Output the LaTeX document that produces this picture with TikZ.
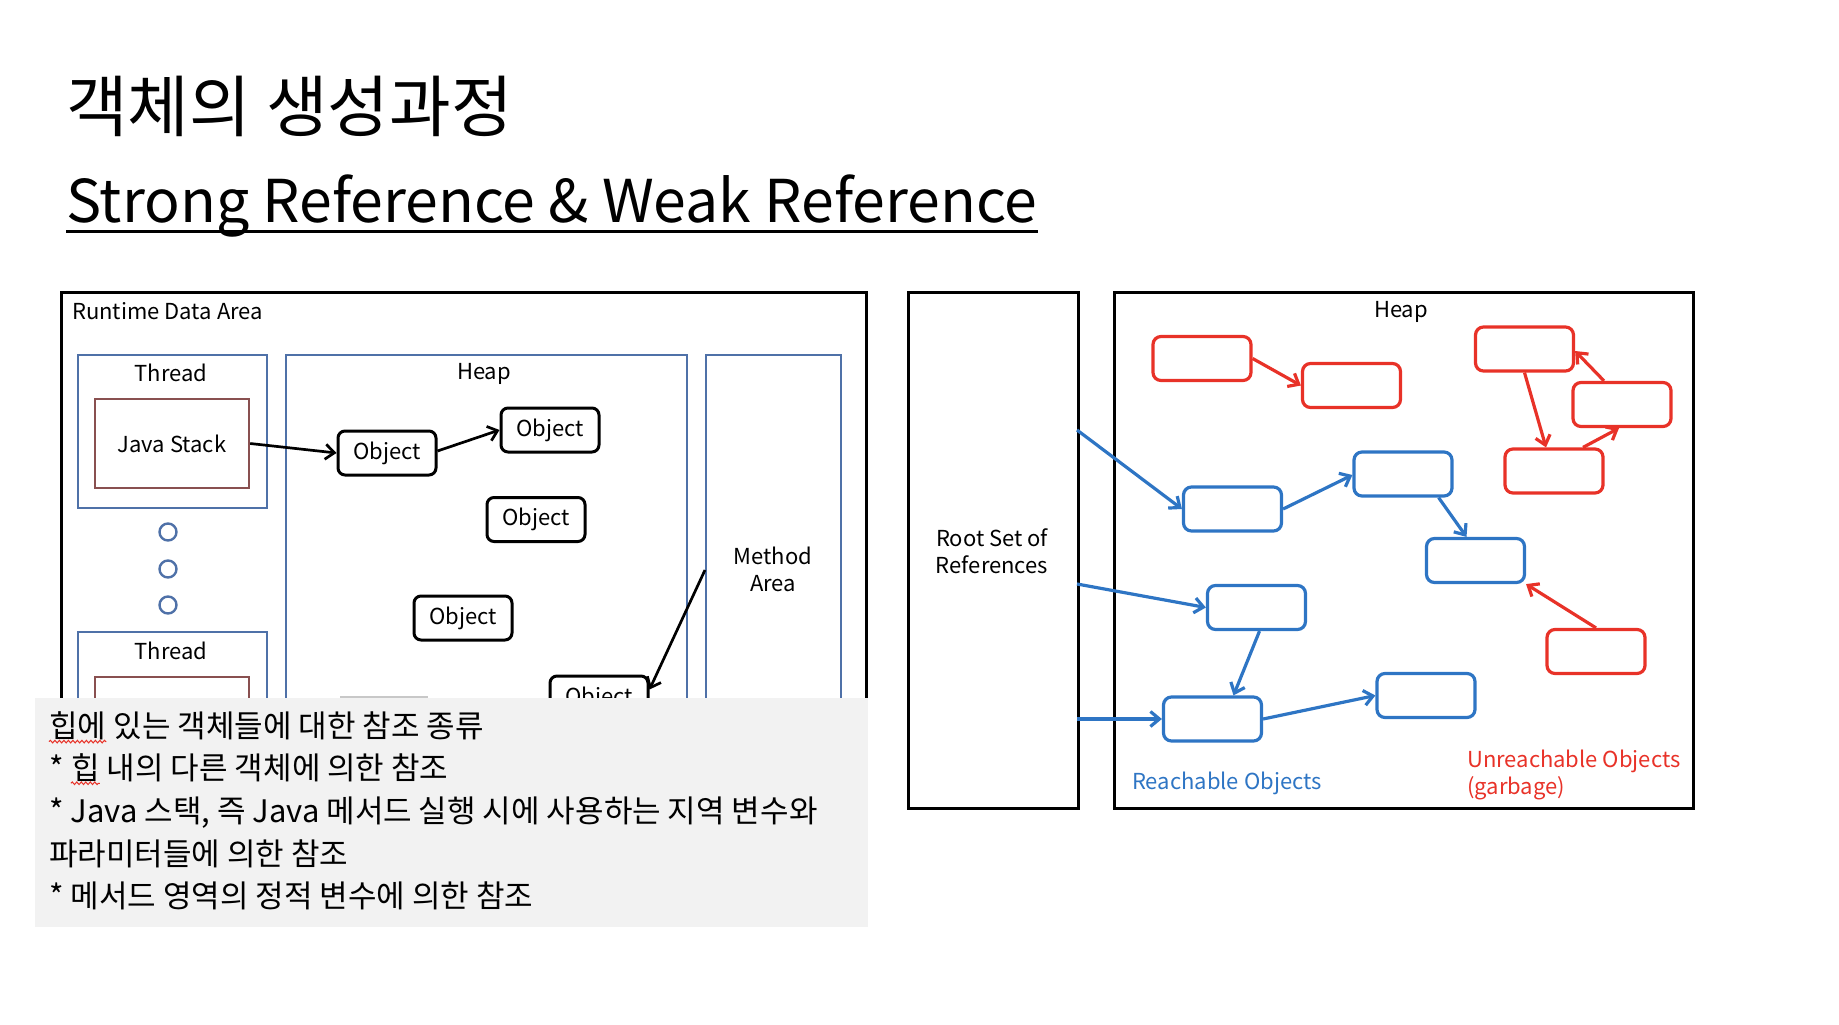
\documentclass[tikz,border=0pt]{standalone}
\usepackage{fontspec}
\setmainfont{Noto Sans CJK KR}
\usepackage{tikz}
\usetikzlibrary{
  arrows.meta,
  calc,
  positioning,
  decorations.pathmorphing
}
\usepackage{xcolor}
\definecolor{lanecol}{RGB}{79, 113, 168}
\definecolor{stackcol}{RGB}{137, 80, 80}
\definecolor{liveblue}{RGB}{46, 117, 196}
\definecolor{deadred}{RGB}{232, 50, 40}
\definecolor{notegray}{RGB}{242, 242, 242}
\definecolor{seamgray}{RGB}{200, 200, 200}
\tikzset{
  % Sarlavha
  titletext/.style  = {font=\fontsize{67}{76}\selectfont, inner sep=0pt},
  subtext/.style    = {font=\fontsize{59}{68}\selectfont, inner sep=0pt},
  % Katta sohalar
  areabox/.style    = {draw=black, line width=2.8pt},
  lanebox/.style    = {draw=lanecol, line width=2.4pt},
  stackbox/.style   = {draw=stackcol, line width=2.4pt, minimum width=154pt, minimum height=89pt,
                       font=\fontsize{22}{26}\selectfont},
  ring/.style       = {circle, draw=lanecol, line width=2.4pt, minimum size=17pt, inner sep=0pt},
  % Obyektlar
  objbox/.style     = {draw=black, line width=3pt, rounded corners=7pt,
                       minimum width=98pt, minimum height=44pt, font=\fontsize{22}{26}\selectfont},
  liveobj/.style    = {draw=liveblue, line width=3.2pt, rounded corners=8pt,
                       minimum width=98pt, minimum height=44pt},
  deadobj/.style    = {liveobj, draw=deadred},
  % O'qlar
  refline/.style    = {-{Straight Barb[length=9pt,width=15pt]}, line width=2.7pt},
  livearrow/.style  = {refline, draw=liveblue, line width=3.2pt},
  deadarrow/.style  = {refline, draw=deadred, line width=3.2pt},
  % Yozuvlar
  lab/.style        = {font=\fontsize{22}{27}\selectfont, inner sep=0pt},
  notebox/.style    = {fill=notegray, inner sep=0pt},
  notetext/.style   = {anchor=base west, font=\fontsize{31}{35}\selectfont, inner sep=0pt},
  spellmark/.style  = {draw=deadred, line width=1pt,
                       decorate, decoration={snake, amplitude=1.3pt, segment length=4.5pt}},
}
\begin{document}
\begin{tikzpicture}[x=1pt, y=-1pt]
  \useasboundingbox (0,0) rectangle (1839,1025);
  % Sarlavha
  \node[titletext, anchor=base west] (title) at (66,131) {객체의 생성과정};
  \node[subtext, anchor=base west] (subtitle) at (66,222) {Strong Reference \& Weak Reference};
  \draw[line width=3pt] ([yshift=-9pt]subtitle.base west) -- ([yshift=-9pt]subtitle.base east);

  % Runtime Data Area
  \node[areabox, anchor=north west, minimum width=805pt, minimum height=470pt] (rtarea) at (60,291) {};
  \node[lab, anchor=west] (rtlab) at (72,311) {Runtime Data Area};
  % Thread lar
  \node[lanebox, anchor=north west, minimum width=189pt, minimum height=153pt] (thread1) at (77,354) {};
  \node[lab] (thr1lab) at (171,373) {Thread};
  \node[stackbox] (jstack) at (172,443.5) {Java Stack};
  \foreach \y [count=\i] in {532,569,605}
    \node[ring] (ring\i) at (168,\y) {};
  \node[lanebox, anchor=north west, minimum width=189pt, minimum height=130pt] (thread2) at (77,631) {};
  \node[lab] (thr2lab) at (171,651) {Thread};
  \node[stackbox, anchor=north] (jstack2) at (172,675.5) {};
  % Heap va Method Area
  \node[lanebox, anchor=north west, minimum width=401pt, minimum height=400pt] (lheap) at (285,354) {};
  \node[lab] (lheaplab) at (484,374) {Heap};
  \node[lanebox, anchor=north west, minimum width=135pt, minimum height=400pt] (marea) at (705,354) {};
  \node[lab, align=center] (malab) at (773,569) {Method\\Area};
  % Obyektlar
  \node[objbox] (obj1) at (387,453) {Object};
  \node[objbox] (obj2) at (550,430) {Object};
  \node[objbox] (obj3) at (536,519.5) {Object};
  \node[objbox] (obj4) at (463,618) {Object};
  \node[objbox] (obj5) at (599,698) {Object};
  % Havolalar
  \coordinate (maref) at (705,570);
  \draw[refline] (jstack.east) -- (obj1.west);
  \draw[refline] ([yshift=2pt]obj1.east) -- (obj2.west);
  \draw[refline] (maref) -- ([yshift=-15pt]obj5.north east);

  % Izoh qutisi
  \node[notebox, anchor=north west, minimum width=833pt, minimum height=229pt] (note) at (35,698) {};
  \draw[seamgray, line width=1.5pt] (340,697) -- (428,697);
  \node[notetext] (n1a) at (49,737) {힙에};
  \node[notetext] (n1b) at ([xshift=7pt]n1a.base east) {있는 객체들에 대한 참조 종류};
  \node[notetext] (n2a) at (49,779) {*};
  \node[notetext] (n2b) at ([xshift=7pt]n2a.base east) {힙};
  \node[notetext] (n2c) at ([xshift=7pt]n2b.base east) {내의 다른 객체에 의한 참조};
  \node[notetext] (n3) at (49,822) {* Java 스택, 즉 Java 메서드 실행 시에 사용하는 지역 변수와};
  \node[notetext] (n4) at (49,865) {파라미터들에 의한 참조};
  \node[notetext] (n5) at (49,907) {* 메서드 영역의 정적 변수에 의한 참조};
  \draw[spellmark] ([yshift=-2pt]n1a.south west) -- ([yshift=-2pt]n1a.south east);
  \draw[spellmark] ([yshift=-2pt]n2b.south west) -- ([yshift=-2pt]n2b.south east);

  % Root Set va Heap
  \node[areabox, anchor=north west, minimum width=170pt, minimum height=516pt] (rootset) at (907,291) {};
  \node[lab, align=center] (rootlab) at (992,551) {Root Set of\\References};
  \node[areabox, anchor=north west, minimum width=579pt, minimum height=516pt] (rheap) at (1113,291) {};
  \node[lab] (rheaplab) at (1401,312) {Heap};
  % Yetib boriladigan obyektlar
  \foreach \n/\x/\y in {live1/1232.5/509, live2/1403/474, live3/1475.5/560.5,
                        live4/1256.5/607.5, live5/1212.5/719, live6/1426/695.5}
    \node[liveobj] (\n) at (\x,\y) {};
  % Axlat obyektlar
  \foreach \n/\x/\y in {dead1/1202/358.5, dead2/1351.5/385.5, dead3/1524.5/349,
                        dead4/1622/404.5, dead5/1554/471, dead6/1596/651.5}
    \node[deadobj] (\n) at (\x,\y) {};
  % Root dan havolalar
  \coordinate (rs1) at (1077,430);
  \coordinate (rs2) at (1077,584);
  \coordinate (rs3) at (1077,719);
  \draw[livearrow] (rs1) -- (live1.west);
  \draw[livearrow] (rs2) -- (live4.west);
  \draw[livearrow] (rs3) -- (live5.west);
  \draw[livearrow] (live1.east) -- ([yshift=-1pt]live2.west);
  \draw[livearrow] ([xshift=-15pt]live2.south east) -- ([xshift=-9pt]live3.north);
  \draw[livearrow] ([xshift=3pt]live4.south) -- ([xshift=21pt]live5.north);
  \draw[livearrow] (live5.east) -- (live6.west);
  \draw[deadarrow] (dead1.east) -- (dead2.west);
  \draw[deadarrow] (dead3.south) -- ([xshift=-8pt]dead5.north);
  \draw[deadarrow] ([xshift=29pt]dead5.north) -- ([xshift=-3pt]dead4.south);
  \draw[deadarrow] ([xshift=-18pt]dead4.north) -- ([yshift=-2pt]dead3.east);
  \draw[deadarrow] (dead6.north) -- (live3.south east);
  % Yozuvlar
  \node[lab, text=liveblue, anchor=west] (livelab) at (1132,783) {Reachable Objects};
  \node[lab, text=deadred, anchor=west, align=left] (deadlab) at (1467,775) {Unreachable Objects\\(garbage)};
\end{tikzpicture}
\end{document}
